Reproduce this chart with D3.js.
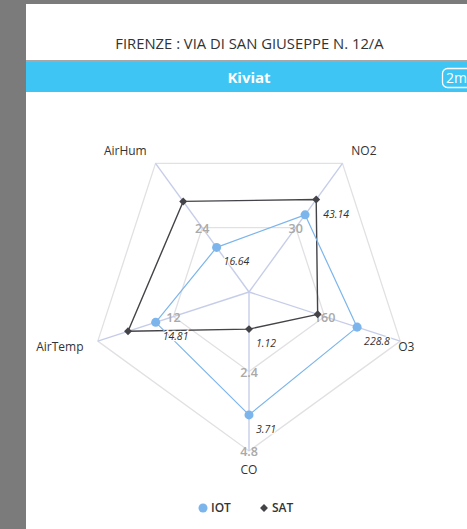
<!DOCTYPE html>
<html>
<head>
<meta charset="utf-8">
<script src="https://cdn.jsdelivr.net/npm/d3@7/dist/d3.min.js"></script>
<style>
  html, body { margin: 0; padding: 0; background: #7b7b7b; }
  svg { display: block; font-family: "Open Sans", "Noto Sans", sans-serif; }
</style>
</head>
<body>
<script>
// Station readings shown on the Kiviat (spider) chart
const categories = ["AirHum", "NO2", "O3", "CO", "AirTemp"];
const axisMax = [48, 60, 320, 4.8, 24];
const iotValues = [16.64, 36.0, 228.8, 3.71, 14.81];
const satValues = [33.8, 43.14, 145.3, 1.12, 19.2];
// which point values get a printed label
const iotLabelShown = [true, false, true, true, true];
const satLabelShown = [false, true, false, true, false];
// tick labels drawn on each spoke: [half ring, outer ring]
const tickLabels = [["24", ""], ["30", ""], ["160", ""], ["2.4", "4.8"], ["12", ""]];
const seriesNames = ["IOT", "SAT"];
const titleText = "FIRENZE : VIA DI SAN GIUSEPPE N. 12/A";
const headerText = "Kiviat";
const badgeText = "2m";

const W = 467, H = 529;
const svg = d3.select("body").append("svg").attr("width", W).attr("height", H);

// page panel
svg.append("rect").attr("x", 0).attr("y", 0).attr("width", W).attr("height", H).attr("fill", "#7b7b7b");
svg.append("rect").attr("x", 26).attr("y", 4).attr("width", W - 26).attr("height", H - 4).attr("fill", "#ffffff");

// title
svg.append("text").attr("x", 249.5).attr("y", 49).attr("text-anchor", "middle")
  .attr("font-size", 14.8).attr("fill", "#333").text(titleText);

// header bar
svg.append("rect").attr("x", 26).attr("y", 60).attr("width", W - 26).attr("height", 2).attr("fill", "#a7a7a7");
svg.append("rect").attr("x", 26).attr("y", 62).attr("width", W - 26).attr("height", 30).attr("fill", "#3ec5f3");
svg.append("text").attr("x", 249).attr("y", 82.5).attr("text-anchor", "middle")
  .attr("font-size", 15).attr("font-weight", 700).attr("fill", "#fff").text(headerText);
svg.append("rect").attr("x", 442.5).attr("y", 68.5).attr("width", 40).attr("height", 19).attr("rx", 5)
  .attr("fill", "none").attr("stroke", "#fff").attr("stroke-width", 1.3);
svg.append("text").attr("x", 446).attr("y", 83).attr("font-size", 14).attr("fill", "#fff").text(badgeText);

// radar geometry
const cx = 249, cy = 292, R = 159;
const n = categories.length;
const angle = d3.scaleLinear().domain([0, n]).range([-Math.PI / 5, 2 * Math.PI - Math.PI / 5]);
const radii = axisMax.map(m => d3.scaleLinear().domain([0, m]).range([0, R]));
const polar = (i, r) => [cx + r * Math.sin(angle(i)), cy - r * Math.cos(angle(i))];

const g = svg.append("g");

// grid rings at half and full extent
const ringLine = d3.lineRadial().angle((d, i) => angle(i)).radius(d => d).curve(d3.curveLinearClosed);
[0.5, 1].forEach(f => {
  g.append("path").attr("transform", `translate(${cx},${cy})`)
    .attr("d", ringLine(categories.map(() => R * f)))
    .attr("fill", "none").attr("stroke", "#e1e1e4").attr("stroke-width", 1.3);
});

// spokes
categories.forEach((c, i) => {
  const [x, y] = polar(i, R);
  g.append("line").attr("x1", cx).attr("y1", cy).attr("x2", x).attr("y2", y)
    .attr("stroke", "#c6cde9").attr("stroke-width", 1.4);
});

// tick labels on each spoke
categories.forEach((c, i) => {
  tickLabels[i].forEach((t, k) => {
    if (!t) return;
    const v = axisMax[i] * (k + 1) / 2;
    const [x, y] = polar(i, radii[i](v));
    g.append("text").attr("x", x).attr("y", y + 5).attr("text-anchor", "middle")
      .attr("font-size", 12.5).attr("font-weight", 600).attr("fill", "#a9a9a9").text(t);
  });
});

// category labels
const anchorFor = { AirHum: "end", NO2: "start", O3: "end", CO: "middle", AirTemp: "end" };
categories.forEach((c, i) => {
  const [x, y] = polar(i, R + 15);
  const dy = -Math.cos(angle(i));
  g.append("text").attr("x", x).attr("y", y + 4 + 4 * Math.max(0, dy))
    .attr("text-anchor", anchorFor[c]).attr("font-size", 12).attr("fill", "#333").text(c);
});

// series
const seriesLine = (vals) => d3.lineRadial()
  .angle((d, i) => angle(i)).radius((d, i) => radii[i](d)).curve(d3.curveLinearClosed)(vals);

function drawSeries(vals, color, width, marker) {
  g.append("path").attr("transform", `translate(${cx},${cy})`).attr("d", seriesLine(vals))
    .attr("fill", "none").attr("stroke", color).attr("stroke-width", width).attr("stroke-linejoin", "round");
  vals.forEach((v, i) => {
    const [x, y] = polar(i, radii[i](v));
    g.append("path").attr("transform", `translate(${x},${y})`)
      .attr("d", d3.symbol().type(marker).size(marker === d3.symbolCircle ? 64 : 40)())
      .attr("fill", color);
  });
}
drawSeries(satValues, "#434348", 1.4, d3.symbolDiamond2);
drawSeries(iotValues, "#7cb5ec", 1.2, d3.symbolCircle);

// value labels
function drawLabels(vals, shown) {
  vals.forEach((v, i) => {
    if (!shown[i]) return;
    const [x, y] = polar(i, radii[i](v));
    g.append("text").attr("x", x + 7).attr("y", y + 18)
      .attr("font-size", 10.5).attr("font-style", "italic").attr("fill", "#333")
      .attr("stroke", "#fff").attr("stroke-width", 2.5).attr("paint-order", "stroke")
      .text(v);
  });
}
drawLabels(iotValues, iotLabelShown);
drawLabels(satValues, satLabelShown);

// legend
const legend = svg.append("g");
const legendItems = [
  { name: seriesNames[0], color: "#7cb5ec", marker: d3.symbolCircle, size: 64, x: 203 },
  { name: seriesNames[1], color: "#434348", marker: d3.symbolDiamond2, size: 40, x: 264 }
];
legendItems.forEach(it => {
  legend.append("path").attr("transform", `translate(${it.x},508)`)
    .attr("d", d3.symbol().type(it.marker).size(it.size)()).attr("fill", it.color);
  legend.append("text").attr("x", it.x + 8).attr("y", 512)
    .attr("font-size", 12).attr("font-weight", 600).attr("fill", "#333").text(it.name);
});
</script>
</body>
</html>
